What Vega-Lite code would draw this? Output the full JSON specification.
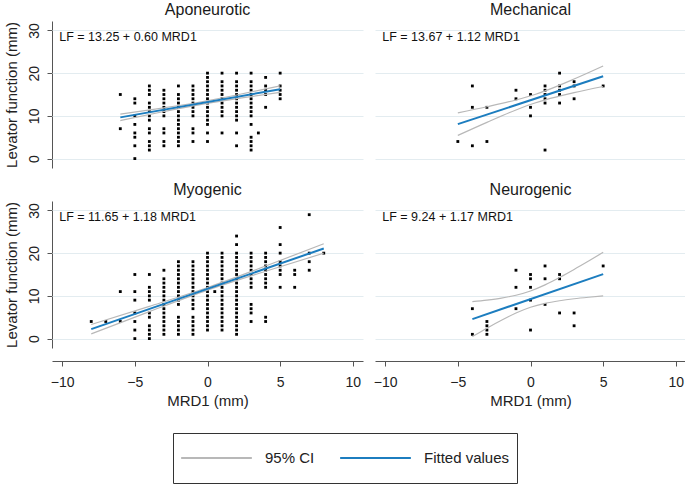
{
"$schema": "https://vega.github.io/schema/vega-lite/v6.json",
"padding": {"left": 3, "top": 2, "right": 0, "bottom": 0},
"background": "white",
"data": {"values": [
{"g":"Aponeurotic","k":"pt","x":-6,"y":15},{"g":"Aponeurotic","k":"pt","x":-6,"y":7},
{"g":"Aponeurotic","k":"pt","x":-5,"y":14},{"g":"Aponeurotic","k":"pt","x":-5,"y":13},{"g":"Aponeurotic","k":"pt","x":-5,"y":10},{"g":"Aponeurotic","k":"pt","x":-5,"y":8},{"g":"Aponeurotic","k":"pt","x":-5,"y":6},{"g":"Aponeurotic","k":"pt","x":-5,"y":5},{"g":"Aponeurotic","k":"pt","x":-5,"y":3},{"g":"Aponeurotic","k":"pt","x":-5,"y":0},
{"g":"Aponeurotic","k":"pt","x":-4,"y":17},{"g":"Aponeurotic","k":"pt","x":-4,"y":16},{"g":"Aponeurotic","k":"pt","x":-4,"y":15},{"g":"Aponeurotic","k":"pt","x":-4,"y":13},{"g":"Aponeurotic","k":"pt","x":-4,"y":12},{"g":"Aponeurotic","k":"pt","x":-4,"y":11},{"g":"Aponeurotic","k":"pt","x":-4,"y":10},{"g":"Aponeurotic","k":"pt","x":-4,"y":9},{"g":"Aponeurotic","k":"pt","x":-4,"y":7},{"g":"Aponeurotic","k":"pt","x":-4,"y":6},{"g":"Aponeurotic","k":"pt","x":-4,"y":4},{"g":"Aponeurotic","k":"pt","x":-4,"y":3},{"g":"Aponeurotic","k":"pt","x":-4,"y":2},
{"g":"Aponeurotic","k":"pt","x":-3,"y":16},{"g":"Aponeurotic","k":"pt","x":-3,"y":15},{"g":"Aponeurotic","k":"pt","x":-3,"y":14},{"g":"Aponeurotic","k":"pt","x":-3,"y":13},{"g":"Aponeurotic","k":"pt","x":-3,"y":12},{"g":"Aponeurotic","k":"pt","x":-3,"y":11},{"g":"Aponeurotic","k":"pt","x":-3,"y":10},{"g":"Aponeurotic","k":"pt","x":-3,"y":7},{"g":"Aponeurotic","k":"pt","x":-3,"y":6},{"g":"Aponeurotic","k":"pt","x":-3,"y":4},{"g":"Aponeurotic","k":"pt","x":-3,"y":3},
{"g":"Aponeurotic","k":"pt","x":-2,"y":17},{"g":"Aponeurotic","k":"pt","x":-2,"y":15},{"g":"Aponeurotic","k":"pt","x":-2,"y":14},{"g":"Aponeurotic","k":"pt","x":-2,"y":13},{"g":"Aponeurotic","k":"pt","x":-2,"y":12},{"g":"Aponeurotic","k":"pt","x":-2,"y":11},{"g":"Aponeurotic","k":"pt","x":-2,"y":10},{"g":"Aponeurotic","k":"pt","x":-2,"y":9},{"g":"Aponeurotic","k":"pt","x":-2,"y":8},{"g":"Aponeurotic","k":"pt","x":-2,"y":7},{"g":"Aponeurotic","k":"pt","x":-2,"y":6},{"g":"Aponeurotic","k":"pt","x":-2,"y":5},{"g":"Aponeurotic","k":"pt","x":-2,"y":4},{"g":"Aponeurotic","k":"pt","x":-2,"y":3},
{"g":"Aponeurotic","k":"pt","x":-1,"y":17},{"g":"Aponeurotic","k":"pt","x":-1,"y":16},{"g":"Aponeurotic","k":"pt","x":-1,"y":15},{"g":"Aponeurotic","k":"pt","x":-1,"y":14},{"g":"Aponeurotic","k":"pt","x":-1,"y":13},{"g":"Aponeurotic","k":"pt","x":-1,"y":12},{"g":"Aponeurotic","k":"pt","x":-1,"y":11},{"g":"Aponeurotic","k":"pt","x":-1,"y":10},{"g":"Aponeurotic","k":"pt","x":-1,"y":7},{"g":"Aponeurotic","k":"pt","x":-1,"y":6},{"g":"Aponeurotic","k":"pt","x":-1,"y":4},
{"g":"Aponeurotic","k":"pt","x":0,"y":20},{"g":"Aponeurotic","k":"pt","x":0,"y":19},{"g":"Aponeurotic","k":"pt","x":0,"y":18},{"g":"Aponeurotic","k":"pt","x":0,"y":17},{"g":"Aponeurotic","k":"pt","x":0,"y":16},{"g":"Aponeurotic","k":"pt","x":0,"y":15},{"g":"Aponeurotic","k":"pt","x":0,"y":14},{"g":"Aponeurotic","k":"pt","x":0,"y":13},{"g":"Aponeurotic","k":"pt","x":0,"y":12},{"g":"Aponeurotic","k":"pt","x":0,"y":11},{"g":"Aponeurotic","k":"pt","x":0,"y":10},{"g":"Aponeurotic","k":"pt","x":0,"y":9},{"g":"Aponeurotic","k":"pt","x":0,"y":8},{"g":"Aponeurotic","k":"pt","x":0,"y":6},{"g":"Aponeurotic","k":"pt","x":0,"y":4},
{"g":"Aponeurotic","k":"pt","x":1,"y":20},{"g":"Aponeurotic","k":"pt","x":1,"y":18},{"g":"Aponeurotic","k":"pt","x":1,"y":17},{"g":"Aponeurotic","k":"pt","x":1,"y":16},{"g":"Aponeurotic","k":"pt","x":1,"y":15},{"g":"Aponeurotic","k":"pt","x":1,"y":14},{"g":"Aponeurotic","k":"pt","x":1,"y":13},{"g":"Aponeurotic","k":"pt","x":1,"y":12},{"g":"Aponeurotic","k":"pt","x":1,"y":11},{"g":"Aponeurotic","k":"pt","x":1,"y":10},{"g":"Aponeurotic","k":"pt","x":1,"y":6},
{"g":"Aponeurotic","k":"pt","x":2,"y":20},{"g":"Aponeurotic","k":"pt","x":2,"y":18},{"g":"Aponeurotic","k":"pt","x":2,"y":17},{"g":"Aponeurotic","k":"pt","x":2,"y":16},{"g":"Aponeurotic","k":"pt","x":2,"y":15},{"g":"Aponeurotic","k":"pt","x":2,"y":14},{"g":"Aponeurotic","k":"pt","x":2,"y":13},{"g":"Aponeurotic","k":"pt","x":2,"y":12},{"g":"Aponeurotic","k":"pt","x":2,"y":11},{"g":"Aponeurotic","k":"pt","x":2,"y":10},{"g":"Aponeurotic","k":"pt","x":2,"y":9},{"g":"Aponeurotic","k":"pt","x":2,"y":6},{"g":"Aponeurotic","k":"pt","x":2,"y":3},
{"g":"Aponeurotic","k":"pt","x":3,"y":20},{"g":"Aponeurotic","k":"pt","x":3,"y":18},{"g":"Aponeurotic","k":"pt","x":3,"y":17},{"g":"Aponeurotic","k":"pt","x":3,"y":16},{"g":"Aponeurotic","k":"pt","x":3,"y":15},{"g":"Aponeurotic","k":"pt","x":3,"y":14},{"g":"Aponeurotic","k":"pt","x":3,"y":13},{"g":"Aponeurotic","k":"pt","x":3,"y":12},{"g":"Aponeurotic","k":"pt","x":3,"y":11},{"g":"Aponeurotic","k":"pt","x":3,"y":10},{"g":"Aponeurotic","k":"pt","x":3,"y":8},{"g":"Aponeurotic","k":"pt","x":3,"y":5},{"g":"Aponeurotic","k":"pt","x":3,"y":4},{"g":"Aponeurotic","k":"pt","x":3,"y":3},{"g":"Aponeurotic","k":"pt","x":3,"y":2},
{"g":"Aponeurotic","k":"pt","x":3.5,"y":6},
{"g":"Aponeurotic","k":"pt","x":4,"y":19},{"g":"Aponeurotic","k":"pt","x":4,"y":17},{"g":"Aponeurotic","k":"pt","x":4,"y":16},{"g":"Aponeurotic","k":"pt","x":4,"y":15},{"g":"Aponeurotic","k":"pt","x":4,"y":12},
{"g":"Aponeurotic","k":"pt","x":5,"y":20},{"g":"Aponeurotic","k":"pt","x":5,"y":17},{"g":"Aponeurotic","k":"pt","x":5,"y":16},{"g":"Aponeurotic","k":"pt","x":5,"y":15},{"g":"Aponeurotic","k":"pt","x":5,"y":14},

{"g":"Mechanical","k":"pt","x":-5,"y":4},{"g":"Mechanical","k":"pt","x":-4,"y":17},{"g":"Mechanical","k":"pt","x":-4,"y":12},{"g":"Mechanical","k":"pt","x":-4,"y":3},{"g":"Mechanical","k":"pt","x":-3,"y":12},{"g":"Mechanical","k":"pt","x":-3,"y":4},{"g":"Mechanical","k":"pt","x":-1,"y":16},{"g":"Mechanical","k":"pt","x":-1,"y":14},{"g":"Mechanical","k":"pt","x":0,"y":15},{"g":"Mechanical","k":"pt","x":0,"y":12},{"g":"Mechanical","k":"pt","x":0,"y":10},{"g":"Mechanical","k":"pt","x":1,"y":17},{"g":"Mechanical","k":"pt","x":1,"y":16},{"g":"Mechanical","k":"pt","x":1,"y":15},{"g":"Mechanical","k":"pt","x":1,"y":14},{"g":"Mechanical","k":"pt","x":1,"y":13},{"g":"Mechanical","k":"pt","x":1,"y":2},{"g":"Mechanical","k":"pt","x":2,"y":20},{"g":"Mechanical","k":"pt","x":2,"y":17},{"g":"Mechanical","k":"pt","x":2,"y":16},{"g":"Mechanical","k":"pt","x":2,"y":15},{"g":"Mechanical","k":"pt","x":2,"y":13},{"g":"Mechanical","k":"pt","x":3,"y":18},{"g":"Mechanical","k":"pt","x":3,"y":17},{"g":"Mechanical","k":"pt","x":3,"y":14},{"g":"Mechanical","k":"pt","x":5,"y":17},

{"g":"Myogenic","k":"pt","x":-8,"y":4},{"g":"Myogenic","k":"pt","x":-7,"y":4},{"g":"Myogenic","k":"pt","x":-6,"y":11},{"g":"Myogenic","k":"pt","x":-6,"y":4},
{"g":"Myogenic","k":"pt","x":-5,"y":15},{"g":"Myogenic","k":"pt","x":-5,"y":11},{"g":"Myogenic","k":"pt","x":-5,"y":9},{"g":"Myogenic","k":"pt","x":-5,"y":6},{"g":"Myogenic","k":"pt","x":-5,"y":4},{"g":"Myogenic","k":"pt","x":-5,"y":2},{"g":"Myogenic","k":"pt","x":-5,"y":0},
{"g":"Myogenic","k":"pt","x":-4,"y":15},{"g":"Myogenic","k":"pt","x":-4,"y":12},{"g":"Myogenic","k":"pt","x":-4,"y":11},{"g":"Myogenic","k":"pt","x":-4,"y":10},{"g":"Myogenic","k":"pt","x":-4,"y":9},{"g":"Myogenic","k":"pt","x":-4,"y":6},{"g":"Myogenic","k":"pt","x":-4,"y":5},{"g":"Myogenic","k":"pt","x":-4,"y":3},{"g":"Myogenic","k":"pt","x":-4,"y":2},{"g":"Myogenic","k":"pt","x":-4,"y":1},{"g":"Myogenic","k":"pt","x":-4,"y":0},
{"g":"Myogenic","k":"pt","x":-3,"y":16},{"g":"Myogenic","k":"pt","x":-3,"y":14},{"g":"Myogenic","k":"pt","x":-3,"y":13},{"g":"Myogenic","k":"pt","x":-3,"y":12},{"g":"Myogenic","k":"pt","x":-3,"y":11},{"g":"Myogenic","k":"pt","x":-3,"y":10},{"g":"Myogenic","k":"pt","x":-3,"y":9},{"g":"Myogenic","k":"pt","x":-3,"y":8},{"g":"Myogenic","k":"pt","x":-3,"y":7},{"g":"Myogenic","k":"pt","x":-3,"y":6},{"g":"Myogenic","k":"pt","x":-3,"y":5},{"g":"Myogenic","k":"pt","x":-3,"y":4},{"g":"Myogenic","k":"pt","x":-3,"y":3},{"g":"Myogenic","k":"pt","x":-3,"y":2},{"g":"Myogenic","k":"pt","x":-3,"y":1},
{"g":"Myogenic","k":"pt","x":-2,"y":18},{"g":"Myogenic","k":"pt","x":-2,"y":17},{"g":"Myogenic","k":"pt","x":-2,"y":16},{"g":"Myogenic","k":"pt","x":-2,"y":15},{"g":"Myogenic","k":"pt","x":-2,"y":14},{"g":"Myogenic","k":"pt","x":-2,"y":13},{"g":"Myogenic","k":"pt","x":-2,"y":12},{"g":"Myogenic","k":"pt","x":-2,"y":11},{"g":"Myogenic","k":"pt","x":-2,"y":10},{"g":"Myogenic","k":"pt","x":-2,"y":9},{"g":"Myogenic","k":"pt","x":-2,"y":8},{"g":"Myogenic","k":"pt","x":-2,"y":5},{"g":"Myogenic","k":"pt","x":-2,"y":4},{"g":"Myogenic","k":"pt","x":-2,"y":3},{"g":"Myogenic","k":"pt","x":-2,"y":2},{"g":"Myogenic","k":"pt","x":-2,"y":1},
{"g":"Myogenic","k":"pt","x":-1,"y":18},{"g":"Myogenic","k":"pt","x":-1,"y":17},{"g":"Myogenic","k":"pt","x":-1,"y":16},{"g":"Myogenic","k":"pt","x":-1,"y":15},{"g":"Myogenic","k":"pt","x":-1,"y":14},{"g":"Myogenic","k":"pt","x":-1,"y":13},{"g":"Myogenic","k":"pt","x":-1,"y":12},{"g":"Myogenic","k":"pt","x":-1,"y":11},{"g":"Myogenic","k":"pt","x":-1,"y":10},{"g":"Myogenic","k":"pt","x":-1,"y":9},{"g":"Myogenic","k":"pt","x":-1,"y":8},{"g":"Myogenic","k":"pt","x":-1,"y":7},{"g":"Myogenic","k":"pt","x":-1,"y":5},{"g":"Myogenic","k":"pt","x":-1,"y":4},{"g":"Myogenic","k":"pt","x":-1,"y":3},{"g":"Myogenic","k":"pt","x":-1,"y":2},{"g":"Myogenic","k":"pt","x":-1,"y":1},
{"g":"Myogenic","k":"pt","x":0,"y":20},{"g":"Myogenic","k":"pt","x":0,"y":19},{"g":"Myogenic","k":"pt","x":0,"y":18},{"g":"Myogenic","k":"pt","x":0,"y":17},{"g":"Myogenic","k":"pt","x":0,"y":16},{"g":"Myogenic","k":"pt","x":0,"y":15},{"g":"Myogenic","k":"pt","x":0,"y":14},{"g":"Myogenic","k":"pt","x":0,"y":13},{"g":"Myogenic","k":"pt","x":0,"y":12},{"g":"Myogenic","k":"pt","x":0,"y":11},{"g":"Myogenic","k":"pt","x":0,"y":10},{"g":"Myogenic","k":"pt","x":0,"y":9},{"g":"Myogenic","k":"pt","x":0,"y":8},{"g":"Myogenic","k":"pt","x":0,"y":7},{"g":"Myogenic","k":"pt","x":0,"y":6},{"g":"Myogenic","k":"pt","x":0,"y":5},{"g":"Myogenic","k":"pt","x":0,"y":4},{"g":"Myogenic","k":"pt","x":0,"y":3},{"g":"Myogenic","k":"pt","x":0,"y":2},
{"g":"Myogenic","k":"pt","x":0.5,"y":11},
{"g":"Myogenic","k":"pt","x":1,"y":20},{"g":"Myogenic","k":"pt","x":1,"y":19},{"g":"Myogenic","k":"pt","x":1,"y":18},{"g":"Myogenic","k":"pt","x":1,"y":17},{"g":"Myogenic","k":"pt","x":1,"y":16},{"g":"Myogenic","k":"pt","x":1,"y":15},{"g":"Myogenic","k":"pt","x":1,"y":14},{"g":"Myogenic","k":"pt","x":1,"y":13},{"g":"Myogenic","k":"pt","x":1,"y":12},{"g":"Myogenic","k":"pt","x":1,"y":11},{"g":"Myogenic","k":"pt","x":1,"y":10},{"g":"Myogenic","k":"pt","x":1,"y":9},{"g":"Myogenic","k":"pt","x":1,"y":8},{"g":"Myogenic","k":"pt","x":1,"y":7},{"g":"Myogenic","k":"pt","x":1,"y":6},{"g":"Myogenic","k":"pt","x":1,"y":5},{"g":"Myogenic","k":"pt","x":1,"y":4},{"g":"Myogenic","k":"pt","x":1,"y":3},{"g":"Myogenic","k":"pt","x":1,"y":2},
{"g":"Myogenic","k":"pt","x":2,"y":24},{"g":"Myogenic","k":"pt","x":2,"y":22},{"g":"Myogenic","k":"pt","x":2,"y":20},{"g":"Myogenic","k":"pt","x":2,"y":19},{"g":"Myogenic","k":"pt","x":2,"y":18},{"g":"Myogenic","k":"pt","x":2,"y":17},{"g":"Myogenic","k":"pt","x":2,"y":16},{"g":"Myogenic","k":"pt","x":2,"y":15},{"g":"Myogenic","k":"pt","x":2,"y":14},{"g":"Myogenic","k":"pt","x":2,"y":13},{"g":"Myogenic","k":"pt","x":2,"y":12},{"g":"Myogenic","k":"pt","x":2,"y":11},{"g":"Myogenic","k":"pt","x":2,"y":10},{"g":"Myogenic","k":"pt","x":2,"y":9},{"g":"Myogenic","k":"pt","x":2,"y":8},{"g":"Myogenic","k":"pt","x":2,"y":7},{"g":"Myogenic","k":"pt","x":2,"y":6},{"g":"Myogenic","k":"pt","x":2,"y":5},{"g":"Myogenic","k":"pt","x":2,"y":4},{"g":"Myogenic","k":"pt","x":2,"y":3},{"g":"Myogenic","k":"pt","x":2,"y":2},{"g":"Myogenic","k":"pt","x":2,"y":1},
{"g":"Myogenic","k":"pt","x":3,"y":20},{"g":"Myogenic","k":"pt","x":3,"y":19},{"g":"Myogenic","k":"pt","x":3,"y":18},{"g":"Myogenic","k":"pt","x":3,"y":17},{"g":"Myogenic","k":"pt","x":3,"y":16},{"g":"Myogenic","k":"pt","x":3,"y":15},{"g":"Myogenic","k":"pt","x":3,"y":14},{"g":"Myogenic","k":"pt","x":3,"y":13},{"g":"Myogenic","k":"pt","x":3,"y":12},{"g":"Myogenic","k":"pt","x":3,"y":8},{"g":"Myogenic","k":"pt","x":3,"y":7},{"g":"Myogenic","k":"pt","x":3,"y":6},{"g":"Myogenic","k":"pt","x":3,"y":4},
{"g":"Myogenic","k":"pt","x":4,"y":20},{"g":"Myogenic","k":"pt","x":4,"y":19},{"g":"Myogenic","k":"pt","x":4,"y":18},{"g":"Myogenic","k":"pt","x":4,"y":17},{"g":"Myogenic","k":"pt","x":4,"y":16},{"g":"Myogenic","k":"pt","x":4,"y":15},{"g":"Myogenic","k":"pt","x":4,"y":14},{"g":"Myogenic","k":"pt","x":4,"y":13},{"g":"Myogenic","k":"pt","x":4,"y":12},{"g":"Myogenic","k":"pt","x":4,"y":5},{"g":"Myogenic","k":"pt","x":4,"y":4},
{"g":"Myogenic","k":"pt","x":5,"y":26},{"g":"Myogenic","k":"pt","x":5,"y":22},{"g":"Myogenic","k":"pt","x":5,"y":20},{"g":"Myogenic","k":"pt","x":5,"y":18},{"g":"Myogenic","k":"pt","x":5,"y":17},{"g":"Myogenic","k":"pt","x":5,"y":16},{"g":"Myogenic","k":"pt","x":5,"y":15},{"g":"Myogenic","k":"pt","x":5,"y":12},
{"g":"Myogenic","k":"pt","x":6,"y":16},{"g":"Myogenic","k":"pt","x":6,"y":15},{"g":"Myogenic","k":"pt","x":6,"y":12},
{"g":"Myogenic","k":"pt","x":7,"y":29},{"g":"Myogenic","k":"pt","x":7,"y":20},{"g":"Myogenic","k":"pt","x":7,"y":18},{"g":"Myogenic","k":"pt","x":7,"y":16},
{"g":"Myogenic","k":"pt","x":8,"y":20},

{"g":"Neurogenic","k":"pt","x":-4,"y":7},{"g":"Neurogenic","k":"pt","x":-4,"y":1},{"g":"Neurogenic","k":"pt","x":-3,"y":4},{"g":"Neurogenic","k":"pt","x":-3,"y":3},{"g":"Neurogenic","k":"pt","x":-3,"y":2},{"g":"Neurogenic","k":"pt","x":-3,"y":1},{"g":"Neurogenic","k":"pt","x":-1,"y":16},{"g":"Neurogenic","k":"pt","x":-1,"y":12},{"g":"Neurogenic","k":"pt","x":-1,"y":7},{"g":"Neurogenic","k":"pt","x":0,"y":15},{"g":"Neurogenic","k":"pt","x":0,"y":14},{"g":"Neurogenic","k":"pt","x":0,"y":12},{"g":"Neurogenic","k":"pt","x":0,"y":9},{"g":"Neurogenic","k":"pt","x":0,"y":2},{"g":"Neurogenic","k":"pt","x":1,"y":17},{"g":"Neurogenic","k":"pt","x":1,"y":14},{"g":"Neurogenic","k":"pt","x":1,"y":8},{"g":"Neurogenic","k":"pt","x":2,"y":15},{"g":"Neurogenic","k":"pt","x":2,"y":14},{"g":"Neurogenic","k":"pt","x":2,"y":6},{"g":"Neurogenic","k":"pt","x":3,"y":6},{"g":"Neurogenic","k":"pt","x":3,"y":3},{"g":"Neurogenic","k":"pt","x":5,"y":17},

{"g":"Aponeurotic","k":"95% CI","part":"upper","x":-6,"y":10.40},{"g":"Aponeurotic","k":"95% CI","part":"upper","x":-3,"y":11.88},{"g":"Aponeurotic","k":"95% CI","part":"upper","x":-0.5,"y":13.25},{"g":"Aponeurotic","k":"95% CI","part":"upper","x":2,"y":14.88},{"g":"Aponeurotic","k":"95% CI","part":"upper","x":5,"y":17.00},
{"g":"Aponeurotic","k":"95% CI","part":"lower","x":-6,"y":8.90},{"g":"Aponeurotic","k":"95% CI","part":"lower","x":-3,"y":11.02},{"g":"Aponeurotic","k":"95% CI","part":"lower","x":-0.5,"y":12.65},{"g":"Aponeurotic","k":"95% CI","part":"lower","x":2,"y":14.02},{"g":"Aponeurotic","k":"95% CI","part":"lower","x":5,"y":15.50},
{"g":"Aponeurotic","k":"Fitted values","part":"fit","x":-6,"y":9.65},{"g":"Aponeurotic","k":"Fitted values","part":"fit","x":5,"y":16.25},

{"g":"Mechanical","k":"95% CI","part":"upper","x":-5,"y":10.72},{"g":"Mechanical","k":"95% CI","part":"upper","x":-3,"y":12.14},{"g":"Mechanical","k":"95% CI","part":"upper","x":-1,"y":13.72},{"g":"Mechanical","k":"95% CI","part":"upper","x":0.3,"y":15.01},{"g":"Mechanical","k":"95% CI","part":"upper","x":1,"y":15.84},{"g":"Mechanical","k":"95% CI","part":"upper","x":3,"y":18.62},{"g":"Mechanical","k":"95% CI","part":"upper","x":5,"y":21.67},
{"g":"Mechanical","k":"95% CI","part":"lower","x":-5,"y":5.42},{"g":"Mechanical","k":"95% CI","part":"lower","x":-3,"y":8.48},{"g":"Mechanical","k":"95% CI","part":"lower","x":-1,"y":11.38},{"g":"Mechanical","k":"95% CI","part":"lower","x":0.3,"y":13.01},{"g":"Mechanical","k":"95% CI","part":"lower","x":1,"y":13.74},{"g":"Mechanical","k":"95% CI","part":"lower","x":3,"y":15.44},{"g":"Mechanical","k":"95% CI","part":"lower","x":5,"y":16.87},
{"g":"Mechanical","k":"Fitted values","part":"fit","x":-5,"y":8.07},{"g":"Mechanical","k":"Fitted values","part":"fit","x":5,"y":19.27},

{"g":"Myogenic","k":"95% CI","part":"upper","x":-8,"y":3.31},{"g":"Myogenic","k":"95% CI","part":"upper","x":-4,"y":7.54},{"g":"Myogenic","k":"95% CI","part":"upper","x":0,"y":11.95},{"g":"Myogenic","k":"95% CI","part":"upper","x":4,"y":16.98},{"g":"Myogenic","k":"95% CI","part":"upper","x":8,"y":22.19},
{"g":"Myogenic","k":"95% CI","part":"lower","x":-8,"y":1.11},{"g":"Myogenic","k":"95% CI","part":"lower","x":-4,"y":6.32},{"g":"Myogenic","k":"95% CI","part":"lower","x":0,"y":11.35},{"g":"Myogenic","k":"95% CI","part":"lower","x":4,"y":15.76},{"g":"Myogenic","k":"95% CI","part":"lower","x":8,"y":19.99},
{"g":"Myogenic","k":"Fitted values","part":"fit","x":-8,"y":2.21},{"g":"Myogenic","k":"Fitted values","part":"fit","x":8,"y":21.09},

{"g":"Neurogenic","k":"95% CI","part":"upper","x":-4,"y":8.65},{"g":"Neurogenic","k":"95% CI","part":"upper","x":-3,"y":9.02},{"g":"Neurogenic","k":"95% CI","part":"upper","x":-2,"y":9.49},{"g":"Neurogenic","k":"95% CI","part":"upper","x":-1,"y":10.15},{"g":"Neurogenic","k":"95% CI","part":"upper","x":0,"y":11.14},{"g":"Neurogenic","k":"95% CI","part":"upper","x":1,"y":12.57},{"g":"Neurogenic","k":"95% CI","part":"upper","x":2,"y":14.30},{"g":"Neurogenic","k":"95% CI","part":"upper","x":3,"y":16.18},{"g":"Neurogenic","k":"95% CI","part":"upper","x":4,"y":18.16},{"g":"Neurogenic","k":"95% CI","part":"upper","x":5,"y":20.19},
{"g":"Neurogenic","k":"95% CI","part":"lower","x":-4,"y":0.47},{"g":"Neurogenic","k":"95% CI","part":"lower","x":-3,"y":2.44},{"g":"Neurogenic","k":"95% CI","part":"lower","x":-2,"y":4.31},{"g":"Neurogenic","k":"95% CI","part":"lower","x":-1,"y":5.99},{"g":"Neurogenic","k":"95% CI","part":"lower","x":0,"y":7.34},{"g":"Neurogenic","k":"95% CI","part":"lower","x":1,"y":8.25},{"g":"Neurogenic","k":"95% CI","part":"lower","x":2,"y":8.86},{"g":"Neurogenic","k":"95% CI","part":"lower","x":3,"y":9.32},{"g":"Neurogenic","k":"95% CI","part":"lower","x":4,"y":9.68},{"g":"Neurogenic","k":"95% CI","part":"lower","x":5,"y":9.99},
{"g":"Neurogenic","k":"Fitted values","part":"fit","x":-4,"y":4.56},{"g":"Neurogenic","k":"Fitted values","part":"fit","x":5,"y":15.09},

{"g":"Aponeurotic","k":"eq","label":"LF = 13.25 + 0.60 MRD1"},
{"g":"Mechanical","k":"eq","label":"LF = 13.67 + 1.12 MRD1"},
{"g":"Myogenic","k":"eq","label":"LF = 11.65 + 1.18 MRD1"},
{"g":"Neurogenic","k":"eq","label":"LF = 9.24 + 1.17 MRD1"}
]},
"facet": {"field": "g", "type": "nominal", "header": {"title": null, "labelFontSize": 16, "labelFont": "Liberation Sans", "labelPadding": 3, "labelColor": "#1a1a1a"}},
"columns": 2,
"spacing": {"row": 14, "column": 12},
"spec": {
  "width": 311,
  "height": 147,
  "layer": [
    {"transform": [{"filter": "datum.k == 'pt'"}],
     "mark": {"type": "square", "size": 8, "color": "#000000", "opacity": 1},
     "encoding": {
       "x": {"field": "x", "type": "quantitative", "scale": {"domain": [-10.7, 10.7], "nice": false, "zero": false},
             "axis": {"values": [-10, -5, 0, 5, 10], "title": "MRD1 (mm)", "grid": false, "offset": 13, "labelPadding": 9, "titlePadding": 4}},
       "y": {"field": "y", "type": "quantitative", "scale": {"domain": [-2.2, 32.2], "nice": false, "zero": false},
             "axis": {"values": [0, 10, 20, 30], "title": "Levator function (mm)", "grid": true, "labelAngle": -90, "labelAlign": "center", "labelBaseline": "bottom", "labelPadding": 6}}
     }},
    {"transform": [{"filter": "datum.k == '95% CI'"}],
     "mark": {"type": "line", "strokeWidth": 1.2, "interpolate": "monotone"},
     "encoding": {
       "x": {"field": "x", "type": "quantitative"},
       "y": {"field": "y", "type": "quantitative"},
       "color": {"field": "k", "type": "nominal", "scale": {"domain": ["95% CI", "Fitted values"], "range": ["#b8b8b8", "#1c7dbf"]}, "legend": {"title": null}},
       "detail": {"field": "part"}}},
    {"transform": [{"filter": "datum.k == 'Fitted values'"}],
     "mark": {"type": "line", "strokeWidth": 2},
     "encoding": {
       "x": {"field": "x", "type": "quantitative"},
       "y": {"field": "y", "type": "quantitative"},
       "color": {"field": "k", "type": "nominal", "scale": {"domain": ["95% CI", "Fitted values"], "range": ["#b8b8b8", "#1c7dbf"]}, "legend": {"title": null}}}},
    {"transform": [{"filter": "datum.k == 'eq'"}],
     "mark": {"type": "text", "align": "left", "baseline": "middle", "fontSize": 12.5, "font": "Liberation Sans", "color": "#111111"},
     "encoding": {"x": {"datum": -10.2, "type": "quantitative"}, "y": {"datum": 28.4, "type": "quantitative"}, "text": {"field": "label", "type": "nominal"}}}
  ]
},
"config": {
  "font": "Liberation Sans",
  "view": {"stroke": null},
  "axis": {"labelFont": "Liberation Sans", "titleFont": "Liberation Sans", "labelFontSize": 14, "titleFontSize": 15, "titleFontWeight": "normal", "labelColor": "#222222", "titleColor": "#222222", "domainColor": "#555555", "tickColor": "#555555", "tickSize": 5, "gridColor": "#e3ecf0", "gridWidth": 1},
  "axisY": {"titlePadding": 8},
  "legend": {"orient": "bottom", "direction": "horizontal", "symbolType": "stroke", "symbolSize": 5000, "symbolStrokeWidth": 2, "clipHeight": 36, "labelOffset": 12, "columnPadding": 24, "padding": 7, "strokeColor": "#333333", "labelFontSize": 15, "labelFont": "Liberation Sans", "labelColor": "#222222", "offset": 25, "layout": {"bottom": {"anchor": "middle", "bounds": "flush"}}}
}
}
